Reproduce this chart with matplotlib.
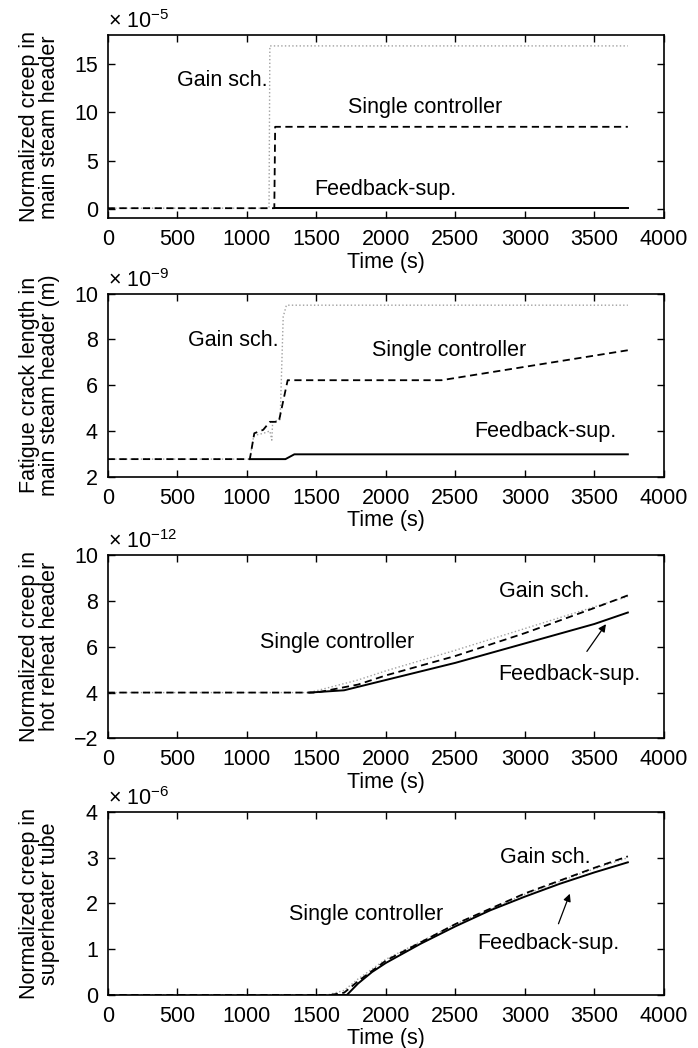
import matplotlib
matplotlib.use("Agg")
import matplotlib.pyplot as plt

plt.rcParams["font.family"] = ["Liberation Sans", "DejaVu Sans"]
plt.rcParams["mathtext.fontset"] = "custom"
plt.rcParams["mathtext.rm"] = "Liberation Sans"
plt.rcParams["mathtext.it"] = "Liberation Sans:italic"

FS = 15.5

# --- main steam header creep (x 1e-5) ---
ms_creep_t_gain = [0, 1160, 1166, 3740]
ms_creep_gain = [0.05, 0.05, 16.9, 16.9]
ms_creep_t_single = [0, 1198, 1204, 3740]
ms_creep_single = [0.05, 0.05, 8.5, 8.5]
ms_creep_t_fb = [1204, 3740]
ms_creep_fb = [0.08, 0.08]

# --- main steam header fatigue crack length (x 1e-9 m) ---
crack_t_gain = [0, 1022, 1050, 1120, 1166, 1180, 1186, 1240, 1262, 1285, 3740]
crack_gain = [2.77, 2.77, 3.8, 3.9, 4.0, 3.6, 4.4, 4.5, 9.0, 9.5, 9.5]
crack_t_single = [0, 1022, 1054, 1118, 1166, 1230, 1294, 2400, 3740]
crack_single = [2.77, 2.77, 3.9, 4.05, 4.4, 4.4, 6.22, 6.22, 7.53]
crack_t_fb = [1022, 1278, 1342, 3740]
crack_fb = [2.77, 2.77, 2.98, 2.98]

# --- hot reheat header creep (x 1e-12) ---
hr_t_gain = [0, 1450, 1800, 2000, 2500, 3000, 3500, 3740]
hr_gain = [4.0, 4.0, 4.55, 4.95, 5.85, 6.8, 7.75, 8.2]
hr_t_single = [0, 1500, 1800, 2000, 2500, 3000, 3500, 3740]
hr_single = [4.0, 4.0, 4.35, 4.75, 5.6, 6.6, 7.7, 8.25]
hr_t_fb = [1450, 1700, 2000, 2500, 3000, 3500, 3740]
hr_fb = [4.0, 4.1, 4.55, 5.3, 6.15, 7.0, 7.5]

# --- superheater tube creep (x 1e-6) ---
sh_t_gain = [0, 1580, 1700, 1800, 2000, 2500, 3000, 3500, 3740]
sh_gain = [0, 0, 0.1, 0.35, 0.78, 1.55, 2.2, 2.76, 3.0]
sh_t_single = [0, 1600, 1700, 1800, 2000, 2500, 3000, 3500, 3740]
sh_single = [0, 0, 0.05, 0.3, 0.75, 1.55, 2.22, 2.78, 3.03]
sh_t_fb = [1600, 1720, 1800, 1900, 2000, 2250, 2500, 2750, 3000, 3250, 3500, 3740]
sh_fb = [0, 0, 0.25, 0.5, 0.7, 1.12, 1.5, 1.85, 2.15, 2.43, 2.68, 2.9]

x_ticks = [0, 500, 1000, 1500, 2000, 2500, 3000, 3500, 4000]

panels = [
    dict(
        series=[(ms_creep_t_gain, ms_creep_gain), (ms_creep_t_single, ms_creep_single), (ms_creep_t_fb, ms_creep_fb)],
        ylabel="Normalized creep in\nmain steam header",
        exponent=-5,
        ylim=(-1, 18),
        yticks=[0, 5, 10, 15],
        yticklabels=["0", "5", "10", "15"],
        labels=[("Gain sch.", 1150, 13.3, "right"), ("Single controller", 1725, 10.5, "left"),
                ("Feedback-sup.", 1486, 2.0, "left")],
        arrow=None,
    ),
    dict(
        series=[(crack_t_gain, crack_gain), (crack_t_single, crack_single), (crack_t_fb, crack_fb)],
        ylabel="Fatigue crack length in\nmain steam header (m)",
        exponent=-9,
        ylim=(2, 10),
        yticks=[2, 4, 6, 8, 10],
        yticklabels=["2", "4", "6", "8", "10"],
        labels=[("Gain sch.", 1230, 7.96, "right"), ("Single controller", 1900, 7.53, "left"),
                ("Feedback-sup.", 2636, 3.96, "left")],
        arrow=None,
    ),
    dict(
        series=[(hr_t_gain, hr_gain), (hr_t_single, hr_single), (hr_t_fb, hr_fb)],
        ylabel="Normalized creep in\nhot reheat header",
        exponent=-12,
        ylim=(2, 10),
        yticks=[2, 4, 6, 8, 10],
        yticklabels=["\u22122", "4", "6", "8", "10"],
        labels=[("Gain sch.", 2810, 8.4, "left"), ("Single controller", 1098, 6.2, "left"),
                ("Feedback-sup.", 2810, 4.8, "left")],
        arrow=((3434, 5.7), (3594, 7.09)),
    ),
    dict(
        series=[(sh_t_gain, sh_gain), (sh_t_single, sh_single), (sh_t_fb, sh_fb)],
        ylabel="Normalized creep in\nsuperheater tube",
        exponent=-6,
        ylim=(0, 4),
        yticks=[0, 1, 2, 3, 4],
        yticklabels=["0", "1", "2", "3", "4"],
        labels=[("Gain sch.", 2819, 3.0, "left"), ("Single controller", 1302, 1.75, "left"),
                ("Feedback-sup.", 2659, 1.13, "left")],
        arrow=((3234, 1.5), (3330, 2.27)),
    ),
]

fig = plt.figure(figsize=(6.98, 10.48), dpi=100)
bottoms = [0.7917, 0.5451, 0.2955, 0.0506]
styles = [
    dict(color="#a0a0a0", linestyle=":", linewidth=1.0),
    dict(color="black", linestyle=(0, (4, 2.5)), linewidth=1.3),
    dict(color="black", linestyle="-", linewidth=1.4),
]

for p, b in zip(panels, bottoms):
    ax = fig.add_axes([0.1543, b, 0.797, 0.1746])
    for (t, y), st in zip(p["series"], styles):
        ax.plot(t, y, **st)
    ax.set_xlim(0, 4000)
    ax.set_ylim(*p["ylim"])
    ax.set_xticks(x_ticks)
    ax.set_yticks(p["yticks"])
    ax.set_yticklabels(p["yticklabels"])
    ax.tick_params(direction="in", top=True, right=True, length=5, width=1.0, labelsize=FS)
    ax.tick_params(axis="x", pad=8)
    ax.tick_params(axis="y", pad=7)
    for s in ax.spines.values():
        s.set_linewidth(1.2)
    ax.set_xlabel("Time (s)", fontsize=FS, labelpad=1)
    ax.set_ylabel(p["ylabel"], fontsize=FS, linespacing=0.95)
    ax.yaxis.set_label_coords(-0.085, 0.5)
    ax.text(0.0, 1.038, r"$\times\ 10^{%d}$" % p["exponent"], transform=ax.transAxes,
            fontsize=FS, ha="left", va="baseline")
    for txt, x, y, ha in p["labels"]:
        ax.text(x, y, txt, fontsize=FS, ha=ha, va="center")
    if p["arrow"] is not None:
        tail, head = p["arrow"]
        ax.annotate("", xy=head, xytext=tail,
                    arrowprops=dict(arrowstyle="-|>", color="black", lw=0.9, mutation_scale=11))

fig.savefig("out.png", dpi=100)
